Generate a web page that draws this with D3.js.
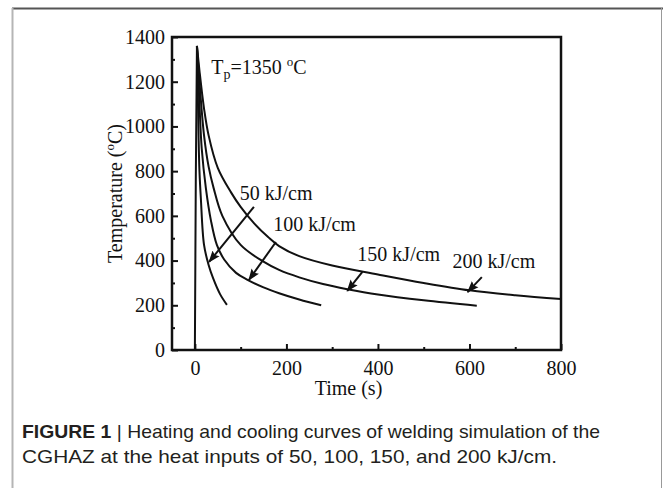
<!DOCTYPE html>
<html>
<head>
<meta charset="utf-8">
<script src="https://cdn.jsdelivr.net/npm/d3@7"></script>
<style>
  body { margin: 0; background: #fff; }
  svg { display: block; }
</style>
</head>
<body>
<script>
// heating branch, then one cooling curve for each heat input
const heatTime = [0, 2, 4.5];
const heatTemp = [0, 760, 1360];

const inputs = ['50 kJ/cm', '100 kJ/cm', '150 kJ/cm', '200 kJ/cm'];

const time50 = [4.5, 6, 8, 10, 13, 20, 30, 40, 55, 70];
const temp50 = [1360, 1200, 960, 800, 680, 470, 380, 320, 250, 202];

const time100 = [4.5, 10, 15, 24, 35, 48, 64, 90, 114, 150, 184, 228, 276];
const temp100 = [1360, 1100, 900, 724, 580, 470, 405, 345, 315, 280, 254, 226, 200];

const time150 = [4.5, 10, 20, 30, 41, 60, 100, 150, 184, 228, 280, 333, 400, 500, 616];
const temp150 = [1360, 1200, 960, 820, 724, 600, 470, 395, 358, 325, 295, 272, 248, 222, 198];

const time200 = [4.5, 10, 20, 30, 50, 79, 100, 130, 160, 184, 228, 300, 400, 500, 600, 700, 800];
const temp200 = [1360, 1250, 1080, 960, 815, 705, 640, 565, 505, 465, 420, 378, 338, 300, 267, 245, 228];

// arrow [fromTime, fromTemp, toTime, toTemp] and label anchor (data units)
const arrows = [
  [129, 640, 31, 394],
  [177, 483, 118, 313],
  [366, 349, 333, 264],
  [627, 326, 596, 259]
];
const labelPos = [[98, 672], [171, 532], [355, 398], [563, 367]];

const xTicks = [0, 200, 400, 600, 800];
const yTicks = [0, 200, 400, 600, 800, 1000, 1200, 1400];

const W = 663, H = 488;
const margin = {top: 37, right: 102, bottom: 138, left: 172};
const width = W - margin.left - margin.right,
    height = H - margin.top - margin.bottom;

const svg = d3.select('body').append('svg')
    .attr('width', W).attr('height', H);

// figure frame
svg.append('line').attr('x1', 12).attr('x2', 663).attr('y1', 8.5).attr('y2', 8.5)
    .attr('stroke', '#555').attr('stroke-width', 2);
svg.append('line').attr('x1', 12.5).attr('x2', 12.5).attr('y1', 8).attr('y2', H)
    .attr('stroke', '#b5b5b5').attr('stroke-width', 2);
svg.append('line').attr('x1', 661.5).attr('x2', 661.5).attr('y1', 8).attr('y2', H)
    .attr('stroke', '#999').attr('stroke-width', 1);

const g = svg.append('g')
    .attr('transform', 'translate(' + margin.left + ',' + margin.top + ')');

const x = d3.scaleLinear().domain([-50, 800]).range([0, width]);
const y = d3.scaleLinear().domain([0, 1400]).range([height, 0]);

const serif = '"Liberation Serif", "Times New Roman", serif';
const fs = 20;

// axes, ticks inward
g.append('g').attr('transform', 'translate(0,' + height + ')')
    .call(d3.axisBottom(x).tickValues(xTicks).tickSize(-6).tickPadding(11).tickFormat(d3.format('d')));
g.append('g').attr('transform', 'translate(0,' + height + ')')
    .call(d3.axisBottom(x).tickValues(d3.range(100, 800, 200)).tickSize(-3).tickFormat(''));
g.append('g')
    .call(d3.axisLeft(y).tickValues(yTicks).tickSize(-6).tickPadding(7).tickFormat(d3.format('d')));
g.append('g')
    .call(d3.axisLeft(y).tickValues(d3.range(100, 1400, 200)).tickSize(-3).tickFormat(''));

g.selectAll('.domain').remove();
g.selectAll('.tick line').attr('stroke', '#111').attr('stroke-width', 2);
g.selectAll('.tick text').attr('font-family', serif).attr('font-size', fs).attr('fill', '#111');

g.append('rect').attr('width', width).attr('height', height)
    .attr('fill', 'none').attr('stroke', '#111').attr('stroke-width', 2.5);

const line = d3.line().x(d => x(d[0])).y(d => y(d[1]));
const smooth = d3.line().x(d => x(d[0])).y(d => y(d[1])).curve(d3.curveCatmullRom.alpha(0.5));

const series = [
  d3.zip(heatTime, heatTemp),
  d3.zip(time50, temp50),
  d3.zip(time100, temp100),
  d3.zip(time150, temp150),
  d3.zip(time200, temp200)
];

g.selectAll('path.curve').data(series).enter().append('path')
    .attr('class', 'curve')
    .attr('d', (d, i) => i === 0 ? line(d) : smooth(d))
    .attr('fill', 'none').attr('stroke', '#111').attr('stroke-width', 2);

// arrows
svg.append('defs').append('marker')
    .attr('id', 'head').attr('viewBox', '0 0 12 10')
    .attr('refX', 11).attr('refY', 5)
    .attr('markerWidth', 6).attr('markerHeight', 5)
    .attr('markerUnits', 'strokeWidth')
    .attr('orient', 'auto')
    .append('path').attr('d', 'M0,0.5 L12,5 L0,9.5 L2,5 z').attr('fill', '#111');

g.selectAll('line.arrow').data(arrows).enter().append('line')
    .attr('class', 'arrow')
    .attr('x1', d => x(d[0])).attr('y1', d => y(d[1]))
    .attr('x2', d => x(d[2])).attr('y2', d => y(d[3]))
    .attr('stroke', '#111').attr('stroke-width', 2)
    .attr('marker-end', 'url(#head)');

g.selectAll('text.lab').data(inputs).enter().append('text')
    .attr('class', 'lab')
    .attr('x', (d, i) => x(labelPos[i][0]))
    .attr('y', (d, i) => y(labelPos[i][1]))
    .attr('font-family', serif).attr('font-size', fs).attr('fill', '#111')
    .text(d => d);

// peak temperature note
const tp = g.append('text').attr('x', x(36)).attr('y', y(1233))
    .attr('font-family', serif).attr('font-size', fs).attr('fill', '#111');
tp.append('tspan').text('T');
tp.append('tspan').attr('font-size', 14).attr('dy', 5).text('p');
tp.append('tspan').attr('dy', -5).text('=1350 ');
tp.append('tspan').attr('font-size', 13).attr('dy', -8).text('o');
tp.append('tspan').attr('dy', 8).text('C');

// axis titles
g.append('text')
    .attr('transform', 'translate(' + (-50) + ',' + (height / 2) + ') rotate(-90)')
    .attr('text-anchor', 'middle')
    .attr('font-family', serif).attr('font-size', fs).attr('fill', '#111')
    .call(t => {
      t.append('tspan').text('Temperature (');
      t.append('tspan').attr('font-size', 13).attr('dy', -8).text('o');
      t.append('tspan').attr('dy', 8).text('C)');
    });

g.append('text')
    .attr('x', width / 2 - 18).attr('y', height + 45)
    .attr('text-anchor', 'middle')
    .attr('font-family', serif).attr('font-size', fs).attr('fill', '#111')
    .text('Time (s)');

// caption
const sans = '"Liberation Sans", Arial, sans-serif';
const cap = svg.append('text').attr('x', 22).attr('y', 438)
    .attr('font-family', sans).attr('font-size', 18.5).attr('fill', '#231f20')
    .attr('textLength', 578).attr('lengthAdjust', 'spacingAndGlyphs');
cap.append('tspan').attr('font-weight', 'bold').text('FIGURE 1');
cap.append('tspan').text(' | Heating and cooling curves of welding simulation of the');

svg.append('text').attr('x', 22).attr('y', 463)
    .attr('font-family', sans).attr('font-size', 18.5).attr('fill', '#231f20')
    .attr('textLength', 535).attr('lengthAdjust', 'spacingAndGlyphs')
    .text('CGHAZ at the heat inputs of 50, 100, 150, and 200 kJ/cm.');
</script>
</body>
</html>
